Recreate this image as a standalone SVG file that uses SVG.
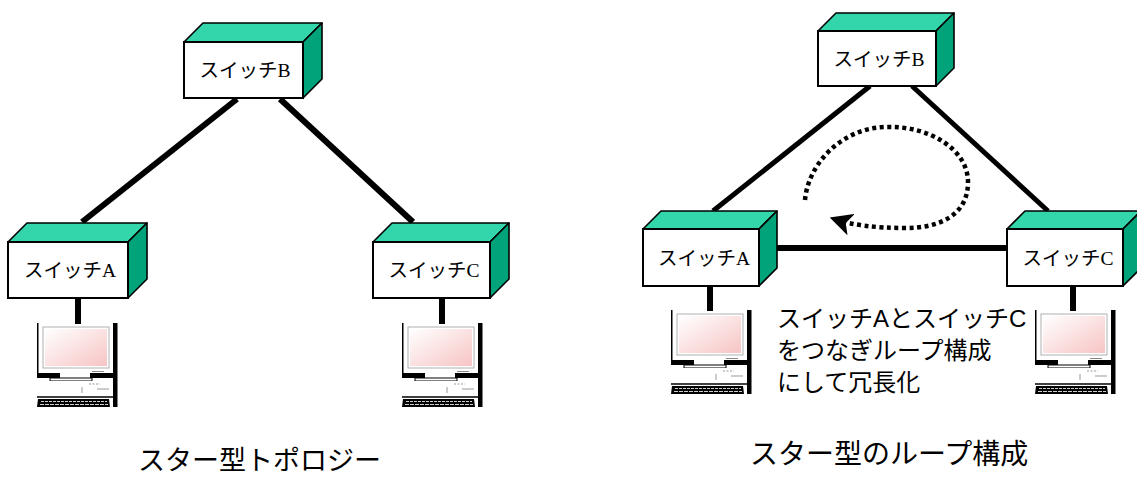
<svg xmlns="http://www.w3.org/2000/svg" xmlns:xlink="http://www.w3.org/1999/xlink" width="1137" height="478" viewBox="0 0 1137 478">
  <style>
    .front { fill: #ffffff; stroke: #000; stroke-width: 2; }
    .top { fill: #33d6aa; stroke: #000; stroke-width: 1.6; stroke-linejoin: round; }
    .side { fill: #00a37a; stroke: #000; stroke-width: 1.6; stroke-linejoin: round; }
    .sw-label { font-family: "Liberation Serif", "Noto Sans CJK JP", serif; font-size: 19.5px; fill: #000; text-anchor: middle; }
    .link { stroke: #000; stroke-width: 6; fill: none; }
    .link-thin { stroke: #000; stroke-width: 5; fill: none; }
    .caption { font-family: "Liberation Sans", "Noto Sans CJK JP", sans-serif; font-size: 27px; fill: #000; }
    .note { font-family: "Liberation Sans", "Noto Sans CJK JP", sans-serif; font-size: 24px; fill: #000; }
    .loop { stroke: #000; stroke-width: 4.5; fill: none; stroke-dasharray: 4 3.5; }
  </style>
  <defs>
    <linearGradient id="screen" x1="0" y1="0" x2="1" y2="1">
      <stop offset="0" stop-color="#ffffff"/>
      <stop offset="1" stop-color="#f7c4c4"/>
    </linearGradient>
    <marker id="loopHead" viewBox="0 0 10 10" refX="8" refY="5" markerWidth="5" markerHeight="5" orient="auto" markerUnits="strokeWidth">
      <path d="M0,0 L10,5 L0,10 L2.5,5 Z" fill="#000"/>
    </marker>
    <!-- desktop PC: monitor, body and keyboard -->
    <symbol id="pc" viewBox="0 0 81 85" width="81" height="85" overflow="visible">
      <rect x="0" y="0" width="1.5" height="50" fill="#000"/>
      <rect x="76" y="0" width="4.5" height="84" fill="#000"/>
      <rect x="6" y="4" width="66" height="41" fill="none" stroke="#b0b0b0" stroke-width="1"/>
      <rect x="8" y="6" width="62" height="37" fill="url(#screen)"/>
      <line x1="55" y1="48.5" x2="67" y2="48.5" stroke="#888" stroke-width="1"/>
      <rect x="0" y="50" width="23" height="5" fill="#000"/>
      <rect x="53" y="50" width="27" height="5" fill="#000"/>
      <rect x="13" y="55" width="42" height="3" fill="#fff" stroke="#000" stroke-width="1"/>
      <rect x="1" y="58" width="75" height="15" fill="#fff"/>
      <line x1="52" y1="61" x2="63" y2="61" stroke="#999" stroke-width="1" stroke-dasharray="2 1.5"/>
      <line x1="60" y1="66" x2="72" y2="66" stroke="#999" stroke-width="1"/>
      <line x1="45" y1="64" x2="45" y2="70" stroke="#999" stroke-width="1"/>
      <line x1="0" y1="74" x2="76" y2="74" stroke="#000" stroke-width="1.5"/>
      <path d="M1,76 L72,76 L73,84 L0,84 Z" fill="#000"/>
      <line x1="4" y1="78.5" x2="70" y2="78.5" stroke="#cfcfcf" stroke-width="1" stroke-dasharray="3 1"/>
      <line x1="3" y1="81.5" x2="71" y2="81.5" stroke="#cfcfcf" stroke-width="1" stroke-dasharray="4 1"/>
    </symbol>
  </defs>

  <!-- connectors -->
  <g id="connectors">
    <!-- star topology -->
    <line class="link" x1="237" y1="99" x2="82" y2="222"/>
    <line class="link" x1="280" y1="99" x2="413" y2="222"/>
    <line class="link" x1="78" y1="298" x2="78" y2="324"/>
    <line class="link" x1="442" y1="298" x2="442" y2="324"/>
    <!-- looped star -->
    <line class="link-thin" x1="870" y1="86" x2="713" y2="211"/>
    <line class="link-thin" x1="912" y1="86" x2="1048" y2="211"/>
    <line class="link" x1="759" y1="248" x2="1007" y2="248"/>
    <line class="link" x1="710" y1="286" x2="710" y2="311"/>
    <line class="link" x1="1073" y1="286" x2="1073" y2="311"/>
    <!-- loop direction -->
    <path class="loop" d="M805,200 C808,165 840,129 884,127 C930,125 968,150 968,182 C968,215 940,228 905,228 C875,228 852,225 834,219" marker-end="url(#loopHead)"/>
  </g>

  <!-- left: star topology -->
  <g id="switchB-star">
    <polygon class="top" points="184,42 203,23 322,23 303,42"/>
    <polygon class="side" points="303,42 322,23 322,79 303,98"/>
    <rect class="front" x="184" y="42" width="119" height="56"/>
    <text class="sw-label" x="245" y="77">スイッチB</text>
  </g>
  <g id="switchA-star">
    <polygon class="top" points="8,242 27,223 147,223 128,242"/>
    <polygon class="side" points="128,242 147,223 147,279 128,298"/>
    <rect class="front" x="8" y="242" width="120" height="56"/>
    <text class="sw-label" x="70" y="277">スイッチA</text>
  </g>
  <g id="switchC-star">
    <polygon class="top" points="373,242 392,223 509,223 490,242"/>
    <polygon class="side" points="490,242 509,223 509,279 490,298"/>
    <rect class="front" x="373" y="242" width="117" height="56"/>
    <text class="sw-label" x="434" y="277">スイッチC</text>
  </g>
  <g id="pcA-star"><use xlink:href="#pc" x="37" y="323"/></g>
  <g id="pcC-star"><use xlink:href="#pc" x="402" y="323"/></g>
  <text class="caption" x="138" y="470">スター型トポロジー</text>

  <!-- right: looped star -->
  <g id="switchB-loop">
    <polygon class="top" points="818,31 836,13 954,13 936,31"/>
    <polygon class="side" points="936,31 954,13 954,68 936,86"/>
    <rect class="front" x="818" y="31" width="118" height="55"/>
    <text class="sw-label" x="879" y="66">スイッチB</text>
  </g>
  <g id="switchA-loop">
    <polygon class="top" points="643,229 661,211 777,211 759,229"/>
    <polygon class="side" points="759,229 777,211 777,268 759,286"/>
    <rect class="front" x="643" y="229" width="116" height="57"/>
    <text class="sw-label" x="704" y="265">スイッチA</text>
  </g>
  <g id="switchC-loop">
    <polygon class="top" points="1007,229 1025,211 1141,211 1123,229"/>
    <polygon class="side" points="1123,229 1141,211 1141,268 1123,286"/>
    <rect class="front" x="1007" y="229" width="116" height="57"/>
    <text class="sw-label" x="1068" y="265">スイッチC</text>
  </g>
  <g id="pcA-loop"><use xlink:href="#pc" x="671" y="310"/></g>
  <g id="pcC-loop"><use xlink:href="#pc" x="1035" y="310"/></g>
  <g id="note">
    <text class="note" x="777" y="327">スイッチAとスイッチC</text>
    <text class="note" x="777" y="359">をつなぎループ構成</text>
    <text class="note" x="777" y="391">にして冗長化</text>
  </g>
  <text class="caption" x="750" y="464" style="font-size:28px">スター型のループ構成</text>
</svg>
